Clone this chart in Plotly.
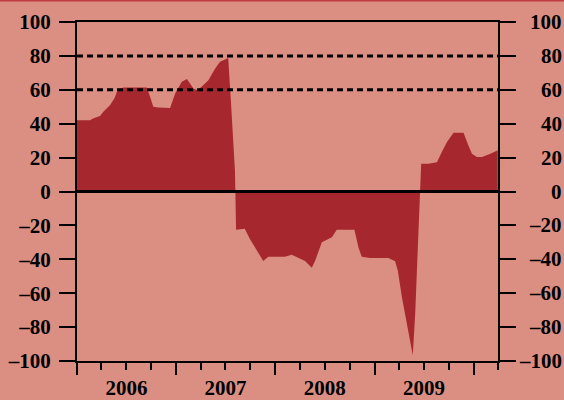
import plotly.graph_objects as go

# ---- data ----
dates = [
    "2006-01-01", "2006-02-18", "2006-03-01", "2006-03-27", "2006-04-08", "2006-05-03",
    "2006-05-19", "2006-05-31", "2006-06-21", "2006-09-15", "2006-09-27", "2006-10-09",
    "2006-10-27", "2006-12-10", "2006-12-29", "2007-01-22", "2007-02-10", "2007-03-06",
    "2007-03-20", "2007-04-06", "2007-04-30", "2007-05-25", "2007-06-12", "2007-07-06",
    "2007-07-12", "2007-07-21", "2007-07-31", "2007-08-06", "2007-08-10", "2007-09-11",
    "2007-09-30", "2007-10-25", "2007-11-18", "2007-12-07", "2008-02-06", "2008-03-02",
    "2008-03-20", "2008-04-20", "2008-05-15", "2008-05-27", "2008-06-21", "2008-07-28",
    "2008-08-15", "2008-10-19", "2008-11-03", "2008-11-15", "2008-12-16", "2009-02-21",
    "2009-03-18", "2009-03-28", "2009-04-12", "2009-04-30", "2009-05-16", "2009-05-22",
    "2009-05-31", "2009-06-06", "2009-06-12", "2009-06-18", "2009-06-22", "2009-07-19",
    "2009-08-19", "2009-09-06", "2009-09-25", "2009-10-19", "2009-11-25", "2009-12-13",
    "2009-12-26", "2010-01-13", "2010-02-01", "2010-03-04", "2010-03-31",
]
values = [
    42, 42, 43, 44.5, 47, 51,
    55, 60, 61.4, 61.4, 56, 50,
    49.5, 49.2, 58, 64.7, 66.3, 60.8,
    59.8, 62, 65.7, 72.6, 76.5, 78.5,
    78.7, 56, 26, 12, -22.5, -22,
    -28, -35, -41, -38.5, -38.5, -37.3,
    -38.5, -41, -45, -41, -30, -27,
    -22.5, -22.5, -33, -38.5, -39.2, -39.2,
    -41.2, -46.7, -62.4, -78, -90, -96.6,
    -72, -49.7, -24.8, -1, 16.4, 16.4,
    17.3, 23.3, 29.2, 34.7, 34.7, 27.2,
    22.3, 20.3, 20.3, 22.3, 24.3,
]
y_ticks = [100, 80, 60, 40, 20, 0, -20, -40, -60, -80, -100]
y_tick_text = [("\u2013" + str(-v)) if v < 0 else str(v) for v in y_ticks]
reference_levels = [60, 80]
x_range = ["2006-01-01", "2010-04-01"]

BG = "#DB8F83"
FILL = "#A6282E"
FONT = dict(family="Liberation Serif", size=21, color="black", weight="bold")

fig = go.Figure()
fig.add_trace(go.Scatter(
    x=dates, y=values, mode="lines", fill="tozeroy",
    fillcolor=FILL, line=dict(color=FILL, width=0), hoverinfo="skip",
))

# dashed reference lines
for lv in reference_levels:
    fig.add_shape(type="line", xref="paper", x0=0, x1=1, yref="y", y0=lv, y1=lv,
                  line=dict(color="black", width=3, dash="6px,4px"), layer="above")
# zero line
fig.add_shape(type="line", xref="paper", x0=0, x1=1, yref="y", y0=0, y1=0,
              line=dict(color="black", width=3), layer="above")
# thin red rule at very top of the figure
fig.add_shape(type="line", xref="paper", x0=-0.3, x1=1.3, yref="paper",
              y0=1.0634, y1=1.0634, line=dict(color="#C23A42", width=2))

# right-hand labels (right aligned at the edge)
for v, t in zip(y_ticks, y_tick_text):
    fig.add_annotation(text=t, xref="paper", x=1, xanchor="right", xshift=66,
                       yref="y", y=v, yanchor="middle", showarrow=False, font=FONT)

fig.update_layout(
    width=564, height=400,
    margin=dict(l=77, r=66, t=22, b=39, autoexpand=False),
    paper_bgcolor=BG, plot_bgcolor=BG,
    showlegend=False,
    xaxis=dict(
        type="date", range=x_range, showgrid=False, zeroline=False, automargin=False,
        showline=True, linecolor="black", linewidth=2, mirror=True,
        ticks="outside", ticklen=12, tickwidth=2, tickcolor="black",
        dtick="M12", tick0="2006-01-01", tickformat="%Y", ticklabelmode="period",
        tickfont=FONT, ticklabelstandoff=-5,
        minor=dict(dtick="M3", ticks="outside", ticklen=7, tickwidth=2, tickcolor="black", showgrid=False),
    ),
    yaxis=dict(
        range=[-100, 100], showgrid=False, zeroline=False, automargin=False,
        showline=True, linecolor="black", linewidth=2, mirror="ticks",
        ticks="outside", ticklen=16, tickwidth=2, tickcolor="black",
        tickvals=y_ticks, ticktext=y_tick_text, tickfont=FONT,
        ticklabelstandoff=4,
    ),
)

fig.write_html("out.html", config={"displayModeBar": False},
               post_script="document.body.style.margin='0px';")
